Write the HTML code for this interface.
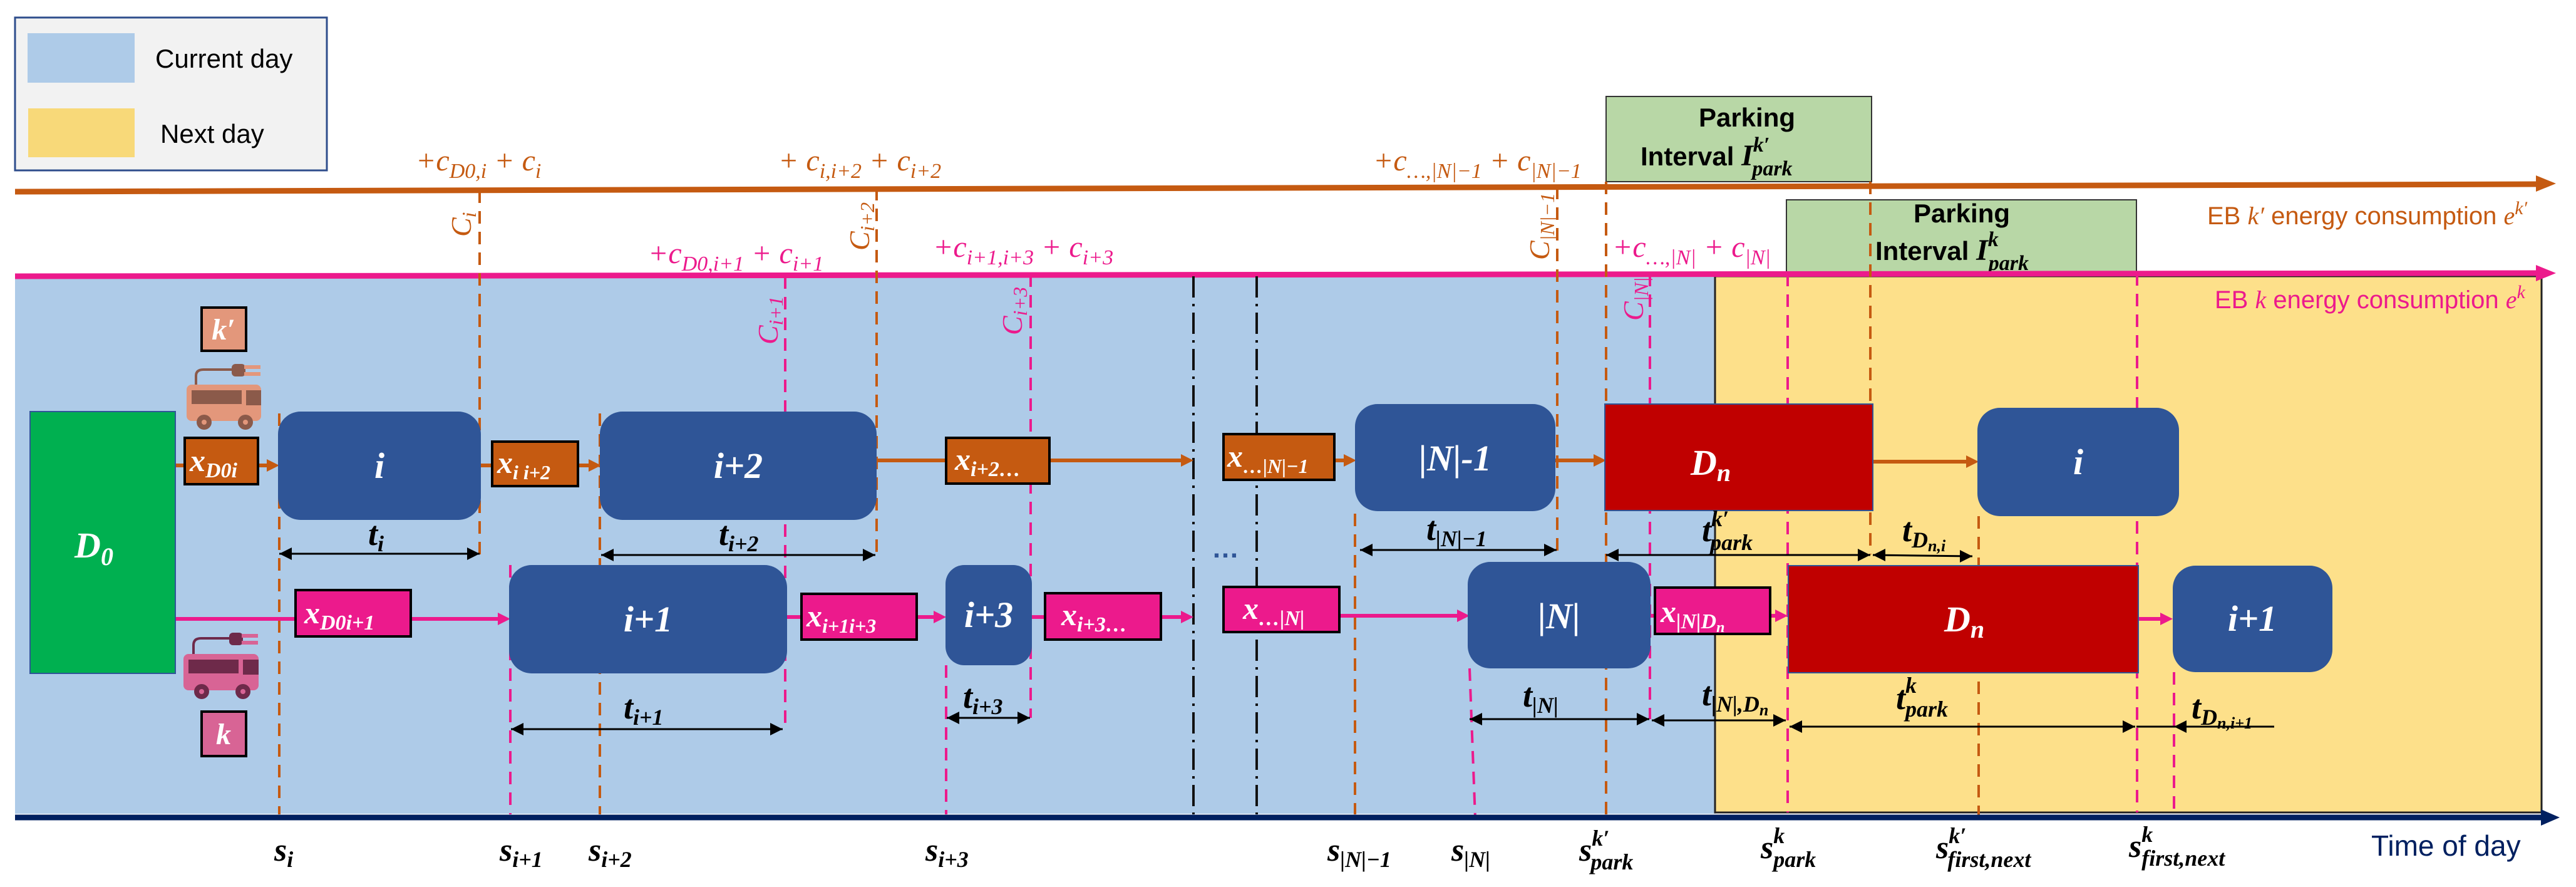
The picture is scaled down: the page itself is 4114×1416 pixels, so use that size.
<!DOCTYPE html>
<html><head><meta charset="utf-8"><style>
html,body{margin:0;padding:0;background:#fff;}
svg{display:block;}
.m{font-family:"Liberation Serif",serif;font-style:italic;}
.mb{font-family:"Liberation Serif",serif;font-style:italic;font-weight:bold;}
.s{font-family:"Liberation Sans",sans-serif;}
</style></head><body>
<svg width="4114" height="1416" viewBox="0 0 4114 1416" xmlns="http://www.w3.org/2000/svg">
<rect width="4114" height="1416" fill="#fff"/>
<!-- backgrounds -->
<rect x="24" y="441" width="2716" height="858" fill="#aecbe8"/>
<rect x="2739" y="441" width="1320" height="856" fill="#fde08a" stroke="#222" stroke-width="3"/>
<!-- legend -->
<rect x="24" y="28" width="498" height="244" fill="#f2f2f2" stroke="#2f4e8c" stroke-width="3"/>
<rect x="44" y="53" width="171" height="79" fill="#aecbe8"/>
<rect x="45" y="173" width="170" height="78" fill="#f8d979"/>
<text x="248" y="108" class="s" font-size="42" fill="#000">Current day</text>
<text x="256" y="228" class="s" font-size="42" fill="#000">Next day</text>

<!-- parking boxes -->
<rect x="2565" y="154" width="424" height="136" fill="#b8d7a6" stroke="#333" stroke-width="2"/>
<text x="2790" y="202" class="s" font-weight="bold" font-size="42" text-anchor="middle">Parking</text>
<text x="2620" y="264" class="s" font-weight="bold" font-size="42">Interval <tspan class="mb" font-size="48">I</tspan><tspan class="mb" font-size="34" dy="-22">k′</tspan><tspan class="mb" font-size="34" dx="-28" dy="38">park</tspan></text>
<rect x="2853" y="319" width="559" height="115" fill="#b8d7a6" stroke="#333" stroke-width="2"/>
<text x="3133" y="355" class="s" font-weight="bold" font-size="42" text-anchor="middle">Parking</text>
<text x="2995" y="415" class="s" font-weight="bold" font-size="42">Interval <tspan class="mb" font-size="48">I</tspan><tspan class="mb" font-size="34" dy="-22">k</tspan><tspan class="mb" font-size="34" dx="-16" dy="38">park</tspan></text>

<!-- energy lines -->
<path d="M24 306 L4050 294" stroke="#c55a11" stroke-width="9" fill="none"/>
<polygon points="4050,280 4082,293 4050,306" fill="#c55a11"/>
<path d="M24 441 L4050 436" stroke="#ec1a8c" stroke-width="9" fill="none"/>
<polygon points="4050,423 4082,436 4050,449" fill="#ec1a8c"/>
<text x="3525" y="358" class="s" font-size="40" fill="#c55a11">EB <tspan class="m">k′</tspan> energy consumption <tspan class="m">e</tspan><tspan class="m" font-size="30" dy="-16">k′</tspan></text>
<text x="3537" y="492" class="s" font-size="40" fill="#ec1a8c">EB <tspan class="m">k</tspan> energy consumption <tspan class="m">e</tspan><tspan class="m" font-size="30" dy="-16">k</tspan></text>

<!-- cost labels -->
<g class="m" font-size="48" fill="#c55a11">
<text x="664" y="272">+c<tspan font-size="34" dy="12">D0,i</tspan><tspan dy="-12"> + c</tspan><tspan font-size="34" dy="12">i</tspan></text>
<text x="1243" y="272">+ c<tspan font-size="34" dy="12">i,i+2</tspan><tspan dy="-12"> + c</tspan><tspan font-size="34" dy="12">i+2</tspan></text>
<text x="2193" y="272">+c<tspan font-size="34" dy="12">…,|N|−1</tspan><tspan dy="-12"> + c</tspan><tspan font-size="34" dy="12">|N|−1</tspan></text>
</g>
<g class="m" font-size="48" fill="#ec1a8c">
<text x="1035" y="420">+c<tspan font-size="34" dy="12">D0,i+1</tspan><tspan dy="-12"> + c</tspan><tspan font-size="34" dy="12">i+1</tspan></text>
<text x="1490" y="410">+c<tspan font-size="34" dy="12">i+1,i+3</tspan><tspan dy="-12"> + c</tspan><tspan font-size="34" dy="12">i+3</tspan></text>
<text x="2575" y="410">+c<tspan font-size="34" dy="12">…,|N|</tspan><tspan dy="-12"> + c</tspan><tspan font-size="34" dy="12">|N|</tspan></text>
</g>
<!-- rotated C labels -->
<g class="m" font-size="46">
<text transform="translate(752,378) rotate(-90)" fill="#c55a11">C<tspan font-size="32" dy="8">i</tspan></text>
<text transform="translate(1388,400) rotate(-90)" fill="#c55a11">C<tspan font-size="32" dy="8">i+2</tspan></text>
<text transform="translate(2474,415) rotate(-90)" fill="#c55a11">C<tspan font-size="32" dy="8">|N|−1</tspan></text>
<text transform="translate(1242,550) rotate(-90)" fill="#ec1a8c">C<tspan font-size="32" dy="8">i+1</tspan></text>
<text transform="translate(1632,535) rotate(-90)" fill="#ec1a8c">C<tspan font-size="32" dy="8">i+3</tspan></text>
<text transform="translate(2624,512) rotate(-90)" fill="#ec1a8c">C<tspan font-size="32" dy="8">|N|</tspan></text>
</g>

<!-- dashed lines -->
<g fill="none" stroke-width="4" stroke-dasharray="20 13">
<g stroke="#c55a11">
<line x1="766" y1="304" x2="766" y2="885"/>
<line x1="446" y1="660" x2="446" y2="1300"/>
<line x1="958" y1="660" x2="958" y2="1300"/>
<line x1="1400" y1="300" x2="1400" y2="885"/>
<line x1="2487" y1="298" x2="2487" y2="885"/>
<line x1="2164" y1="820" x2="2164" y2="1300"/>
<line x1="2565" y1="290" x2="2565" y2="1300"/>
<line x1="2987" y1="290" x2="2987" y2="885"/>
<line x1="3160" y1="824" x2="3160" y2="1306"/>
</g>
<g stroke="#ec1a8c">
<line x1="1254" y1="441" x2="1254" y2="1160"/>
<line x1="815" y1="902" x2="815" y2="1300"/>
<line x1="1646" y1="438" x2="1646" y2="1146"/>
<line x1="1511" y1="1062" x2="1511" y2="1300"/>
<line x1="2635" y1="437" x2="2635" y2="1148"/>
<line x1="2347" y1="1067" x2="2356" y2="1306"/>
<line x1="2855" y1="437" x2="2855" y2="1297"/>
<line x1="3413" y1="436" x2="3413" y2="1297"/>
<line x1="3472" y1="1073" x2="3472" y2="1297"/>
</g>
</g>
<g stroke="#111" stroke-width="4" stroke-dasharray="34 10 4 10" fill="none">
<line x1="1906" y1="441" x2="1906" y2="1300"/>
<line x1="2007" y1="441" x2="2007" y2="1300"/>
</g>

<!-- bus rows -->
<g stroke="#c55a11" stroke-width="6">
<line x1="280" y1="743" x2="440" y2="743"/>
<line x1="768" y1="743" x2="952" y2="743"/>
<line x1="1401" y1="735" x2="1898" y2="735"/>
<line x1="2131" y1="735" x2="2160" y2="735"/>
<line x1="2484" y1="735" x2="2556" y2="735"/>
<line x1="2991" y1="737" x2="3150" y2="737"/>
</g>
<g fill="#c55a11">
<polygon points="426,733 446,743 426,753"/>
<polygon points="940,733 960,743 940,753"/>
<polygon points="1886,725 1906,735 1886,745"/>
<polygon points="2146,725 2166,735 2146,745"/>
<polygon points="2545,725 2565,735 2545,745"/>
<polygon points="3140,727 3160,737 3140,747"/>
</g>
<g stroke="#ec1a8c" stroke-width="6">
<line x1="280" y1="988" x2="805" y2="988"/>
<line x1="1257" y1="985" x2="1500" y2="985"/>
<line x1="1648" y1="985" x2="1895" y2="985"/>
<line x1="2139" y1="983" x2="2335" y2="983"/>
<line x1="2636" y1="983" x2="2845" y2="983"/>
<line x1="3416" y1="988" x2="3460" y2="988"/>
</g>
<g fill="#ec1a8c">
<polygon points="795,978 815,988 795,998"/>
<polygon points="1491,975 1511,985 1491,995"/>
<polygon points="1886,975 1906,985 1886,995"/>
<polygon points="2327,973 2347,983 2327,993"/>
<polygon points="2835,973 2855,983 2835,993"/>
<polygon points="3450,978 3470,988 3450,998"/>
</g>

<!-- D0 -->
<rect x="48" y="657" width="232" height="418" fill="#00b050" stroke="#2f5597" stroke-width="2"/>
<text x="150" y="890" class="mb" font-size="58" fill="#fff" text-anchor="middle">D<tspan font-size="40" dy="12">0</tspan></text>

<!-- trip boxes -->
<g fill="#2f5597">
<rect x="444" y="657" width="324" height="173" rx="36"/>
<rect x="958" y="657" width="442" height="173" rx="36"/>
<rect x="813" y="902" width="444" height="173" rx="36"/>
<rect x="1510" y="902" width="138" height="160" rx="30"/>
<rect x="2164" y="645" width="320" height="171" rx="36"/>
<rect x="2344" y="897" width="292" height="170" rx="36"/>
<rect x="3158" y="651" width="322" height="173" rx="36"/>
<rect x="3470" y="903" width="255" height="170" rx="36"/>
</g>
<g class="mb" font-size="58" fill="#fff" text-anchor="middle">
<text x="606" y="763">i</text>
<text x="1179" y="763">i+2</text>
<text x="1035" y="1008">i+1</text>
<text x="1579" y="1001">i+3</text>
<text x="2324" y="751">|N|-1</text>
<text x="2490" y="1003">|N|</text>
<text x="3319" y="757">i</text>
<text x="3597" y="1007">i+1</text>
</g>
<!-- depots Dn -->
<rect x="2563" y="645" width="428" height="170" fill="#c00000" stroke="#2f5597" stroke-width="2"/>
<text x="2700" y="758" class="mb" font-size="58" fill="#fff">D<tspan font-size="40" dy="10">n</tspan></text>
<rect x="2856" y="903" width="559" height="171" fill="#c00000" stroke="#2f5597" stroke-width="2"/>
<text x="3105" y="1008" class="mb" font-size="58" fill="#fff">D<tspan font-size="40" dy="10">n</tspan></text>

<!-- x boxes -->
<g stroke="#000" stroke-width="4">
<rect x="295" y="699" width="117" height="74" fill="#c55a11"/>
<rect x="786" y="705" width="137" height="71" fill="#c55a11"/>
<rect x="1511" y="699" width="165" height="73" fill="#c55a11"/>
<rect x="1954" y="693" width="177" height="73" fill="#c55a11"/>
<rect x="472" y="942" width="184" height="74" fill="#ec1a8c"/>
<rect x="1280" y="948" width="184" height="73" fill="#ec1a8c"/>
<rect x="1669" y="947" width="185" height="74" fill="#ec1a8c"/>
<rect x="1954" y="937" width="185" height="72" fill="#ec1a8c"/>
<rect x="2643" y="938" width="184" height="74" fill="#ec1a8c"/>
</g>
<g class="mb" font-size="50" fill="#fff">
<text x="303" y="752">x<tspan font-size="34" dy="10">D0i</tspan></text>
<text x="794" y="755">x<tspan font-size="32" dy="10">i i+2</tspan></text>
<text x="1525" y="750">x<tspan font-size="34" dy="10">i+2…</tspan></text>
<text x="1960" y="745">x<tspan font-size="32" dy="10">…|N|−1</tspan></text>
<text x="486" y="995">x<tspan font-size="34" dy="10">D0i+1</tspan></text>
<text x="1288" y="1000">x<tspan font-size="32" dy="10">i+1i+3</tspan></text>
<text x="1695" y="998">x<tspan font-size="34" dy="10">i+3…</tspan></text>
<text x="1985" y="988">x<tspan font-size="34" dy="10">…|N|</tspan></text>
<text x="2652" y="993">x<tspan font-size="34" dy="10">|N|D</tspan><tspan font-size="24" dy="6">n</tspan></text>
</g>
<text x="1935" y="890" font-size="44" fill="#2f5597" class="s" font-weight="bold">…</text>

<!-- k', k boxes and buses -->
<rect x="322" y="491" width="71" height="69" fill="#e3977b" stroke="#000" stroke-width="4"/>
<text x="357" y="542" class="mb" font-size="48" fill="#fff" text-anchor="middle">k′</text>
<rect x="322" y="1136" width="71" height="71" fill="#d86495" stroke="#000" stroke-width="4"/>
<text x="357" y="1188" class="mb" font-size="48" fill="#fff" text-anchor="middle">k</text>
<g>
<path d="M313 615 V600 Q313 590 325 590 H372" stroke="#8b5a4a" stroke-width="4" fill="none"/>
<rect x="370" y="581" width="22" height="20" rx="6" fill="#8b5a4a"/>
<rect x="390" y="583" width="26" height="6" fill="#e3977b"/><rect x="390" y="594" width="26" height="6" fill="#e3977b"/>
<rect x="298" y="614" width="119" height="58" rx="8" fill="#e3977b"/>
<rect x="306" y="623" width="80" height="22" fill="#8b5a4a"/>
<rect x="393" y="623" width="24" height="24" fill="#8b5a4a"/>
<circle cx="326" cy="674" r="12" fill="#8b5a4a"/><circle cx="392" cy="674" r="12" fill="#8b5a4a"/>
<circle cx="326" cy="674" r="4" fill="#e3977b"/><circle cx="392" cy="674" r="4" fill="#e3977b"/>
</g>
<g>
<path d="M309 1045 V1030 Q309 1019 321 1019 H368" stroke="#6e2a4a" stroke-width="4" fill="none"/>
<rect x="366" y="1010" width="22" height="20" rx="6" fill="#6e2a4a"/>
<rect x="386" y="1012" width="26" height="6" fill="#d86495"/><rect x="386" y="1023" width="26" height="6" fill="#d86495"/>
<rect x="293" y="1044" width="120" height="58" rx="8" fill="#d86495"/>
<rect x="301" y="1053" width="80" height="22" fill="#6e2a4a"/>
<rect x="388" y="1053" width="25" height="24" fill="#6e2a4a"/>
<circle cx="322" cy="1104" r="12" fill="#6e2a4a"/><circle cx="388" cy="1104" r="12" fill="#6e2a4a"/>
<circle cx="322" cy="1104" r="4" fill="#d86495"/><circle cx="388" cy="1104" r="4" fill="#d86495"/>
</g>

<!-- duration arrows -->
<g stroke="#000" stroke-width="3">
<line x1="446" y1="884" x2="766" y2="884"/>
<line x1="960" y1="886" x2="1398" y2="886"/>
<line x1="816" y1="1164" x2="1250" y2="1164"/>
<line x1="1512" y1="1146" x2="1645" y2="1146"/>
<line x1="2172" y1="878" x2="2486" y2="878"/>
<line x1="2347" y1="1148" x2="2634" y2="1148"/>
<line x1="2638" y1="1150" x2="2852" y2="1150"/>
<line x1="2565" y1="886" x2="2987" y2="886"/>
<line x1="2991" y1="886" x2="3150" y2="888"/>
<line x1="2858" y1="1160" x2="3410" y2="1160"/>
<line x1="3412" y1="1160" x2="3632" y2="1160"/>
</g>
<g fill="#000">
<polygon points="446,884 466,874 466,894"/><polygon points="766,884 746,874 746,894"/>
<polygon points="960,886 980,876 980,896"/><polygon points="1398,886 1378,876 1378,896"/>
<polygon points="816,1164 836,1154 836,1174"/><polygon points="1250,1164 1230,1154 1230,1174"/>
<polygon points="1512,1146 1532,1136 1532,1156"/><polygon points="1645,1146 1625,1136 1625,1156"/>
<polygon points="2172,878 2192,868 2192,888"/><polygon points="2486,878 2466,868 2466,888"/>
<polygon points="2347,1148 2367,1138 2367,1158"/><polygon points="2634,1148 2614,1138 2614,1158"/>
<polygon points="2638,1150 2658,1140 2658,1160"/><polygon points="2852,1150 2832,1140 2832,1160"/>
<polygon points="2565,886 2585,876 2585,896"/><polygon points="2987,886 2967,876 2967,896"/>
<polygon points="2991,886 3011,876 3011,896"/><polygon points="3150,888 3130,878 3130,898"/>
<polygon points="2858,1160 2878,1150 2878,1170"/><polygon points="3410,1160 3390,1150 3390,1170"/>
<polygon points="3472,1160 3492,1150 3492,1170"/>
</g>
<g class="mb" font-size="54" fill="#000">
<text x="588" y="870">t<tspan font-size="36" dy="10">i</tspan></text>
<text x="1148" y="870">t<tspan font-size="36" dy="10">i+2</tspan></text>
<text x="996" y="1147">t<tspan font-size="36" dy="10">i+1</tspan></text>
<text x="1538" y="1130">t<tspan font-size="36" dy="10">i+3</tspan></text>
<text x="2278" y="862">t<tspan font-size="36" dy="10">|N|−1</tspan></text>
<text x="2432" y="1128">t<tspan font-size="36" dy="10">|N|</tspan></text>
<text x="2718" y="1126">t<tspan font-size="36" dy="10">|N|,D</tspan><tspan font-size="26" dy="6">n</tspan></text>
<text x="2718" y="864">t<tspan font-size="36" dy="-24">k′</tspan><tspan font-size="36" dx="-30" dy="38">park</tspan></text>
<text x="3038" y="864">t<tspan font-size="36" dy="10">D</tspan><tspan font-size="26" dy="6">n,i</tspan></text>
<text x="3028" y="1132">t<tspan font-size="36" dy="-26">k</tspan><tspan font-size="36" dx="-18" dy="38">park</tspan></text>
<text x="3500" y="1147">t<tspan font-size="36" dy="10">D</tspan><tspan font-size="26" dy="6">n,i+1</tspan></text>
</g>

<!-- time axis -->
<line x1="24" y1="1305" x2="4060" y2="1305" stroke="#002060" stroke-width="9"/>
<polygon points="4058,1292 4088,1305 4058,1318" fill="#002060"/>
<text x="3787" y="1366" class="s" font-size="46" fill="#002060">Time of day</text>
<g class="mb" font-size="52" fill="#000">
<text x="438" y="1374">s<tspan font-size="36" dy="10">i</tspan></text>
<text x="798" y="1374">s<tspan font-size="36" dy="10">i+1</tspan></text>
<text x="940" y="1374">s<tspan font-size="36" dy="10">i+2</tspan></text>
<text x="1478" y="1374">s<tspan font-size="36" dy="10">i+3</tspan></text>
<text x="2120" y="1374">s<tspan font-size="36" dy="10">|N|−1</tspan></text>
<text x="2318" y="1374">s<tspan font-size="36" dy="10">|N|</tspan></text>
<text x="2522" y="1374">s<tspan font-size="36" dy="-24">k′</tspan><tspan font-size="36" dx="-30" dy="38">park</tspan></text>
<text x="2812" y="1370">s<tspan font-size="36" dy="-24">k</tspan><tspan font-size="36" dx="-18" dy="38">park</tspan></text>
<text x="3092" y="1370">s<tspan font-size="36" dy="-24">k′</tspan><tspan font-size="36" dx="-30" dy="38">first,next</tspan></text>
<text x="3400" y="1368">s<tspan font-size="36" dy="-24">k</tspan><tspan font-size="36" dx="-18" dy="38">first,next</tspan></text>
</g>
</svg>
</body></html>
